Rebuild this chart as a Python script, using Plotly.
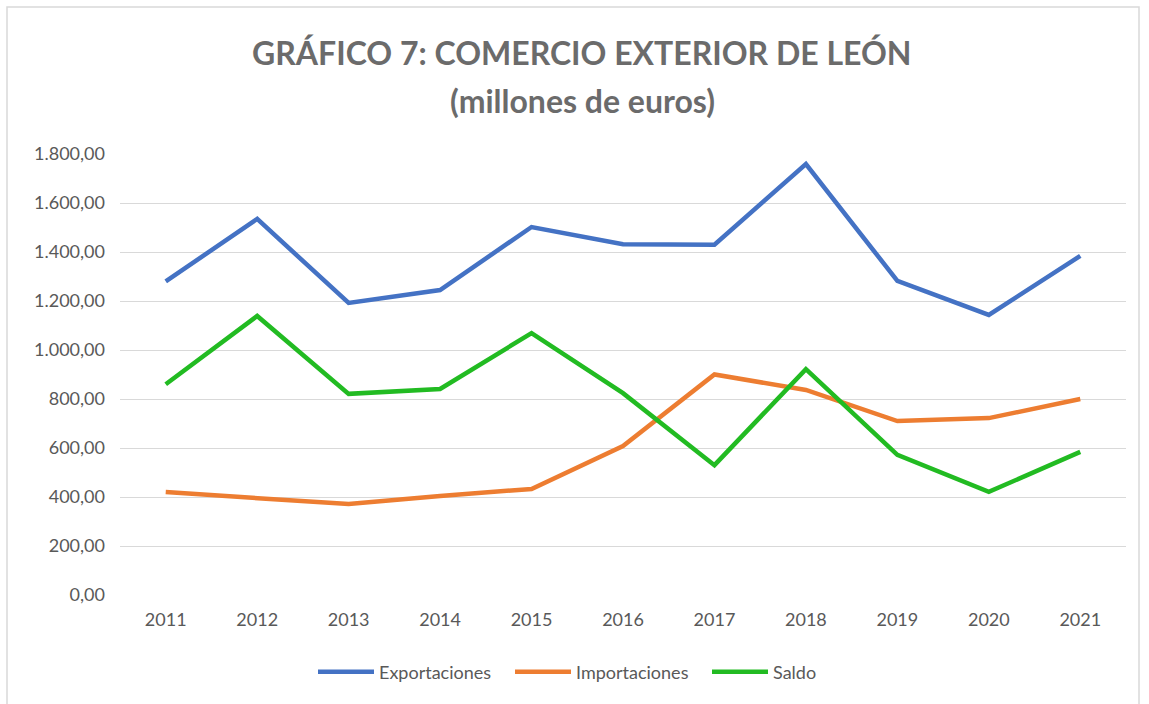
import plotly.graph_objects as go

years = ["2011", "2012", "2013", "2014", "2015", "2016", "2017", "2018", "2019", "2020", "2021"]
exportaciones = [1280, 1535, 1192, 1245, 1502, 1432, 1430, 1759, 1282, 1143, 1384]
importaciones = [420, 396, 371, 404, 433, 608, 900, 837, 710, 722, 800]
saldo = [860, 1139, 821, 841, 1069, 824, 530, 922, 572, 421, 584]
y_ticks = [0, 200, 400, 600, 800, 1000, 1200, 1400, 1600, 1800]
y_tick_labels = ["0,00", "200,00", "400,00", "600,00", "800,00", "1.000,00",
                 "1.200,00", "1.400,00", "1.600,00", "1.800,00"]
title_lines = ["GRÁFICO 7: COMERCIO EXTERIOR DE LEÓN", "(millones de euros)"]

series = [
    ("Exportaciones", exportaciones, "#4472C4"),
    ("Importaciones", importaciones, "#ED7D31"),
    ("Saldo", saldo, "#22BB22"),
]

fig = go.Figure()
for name, vals, color in series:
    fig.add_trace(go.Scatter(x=years, y=vals, name=name, mode="lines",
                             line=dict(color=color, width=4.5)))

L, R, T, B = 120, 23, 154, 109
W, H = 1149, 704
pw, ph = W - L - R, H - T - B

def px_y(p):
    return (H - B - p) / ph

def px_x(p):
    return (p - L) / pw

annotations = []
for text, ypix in zip(title_lines, [53, 100]):
    annotations.append(dict(text="<b>%s</b>" % text, xref="paper", yref="paper",
                            x=px_x(582), y=px_y(ypix), xanchor="center", yanchor="middle",
                            showarrow=False,
                            font=dict(size=32, color="#6B6B6B", family="Lato, sans-serif")))

fig.update_layout(
    width=W, height=H,
    margin=dict(l=L, r=R, t=T, b=B),
    paper_bgcolor="white", plot_bgcolor="white",
    font=dict(family="Lato, Open Sans, sans-serif", color="#595959", size=18),
    annotations=annotations,
    xaxis=dict(type="category", range=[-0.5, 10.5], showgrid=False, showline=False,
               ticks="", tickfont=dict(size=18, color="#595959"), ticklabelstandoff=12),
    yaxis=dict(range=[0, 1800], tickvals=y_ticks, ticktext=y_tick_labels,
               showgrid=True, gridcolor="#D9D9D9", gridwidth=1, zeroline=False,
               showline=False, ticks="", tickfont=dict(size=18, color="#595959"),
               ticklabelstandoff=14),
    legend=dict(orientation="h", x=px_x(313), xanchor="left", y=px_y(672), yanchor="middle",
                font=dict(size=18, color="#595959"), itemwidth=56, traceorder="normal",
                entrywidth=126, entrywidthmode="pixels"),
    shapes=[dict(type="rect", xref="paper", yref="paper",
                 x0=px_x(7), x1=px_x(1139), y0=px_y(720), y1=px_y(7),
                 line=dict(color="#D9D9D9", width=1.5), fillcolor="rgba(0,0,0,0)", layer="below")],
)

fig.write_html("out.html", config={"displayModeBar": False},
               post_script="document.body.style.margin='0';document.body.style.padding='0';")
